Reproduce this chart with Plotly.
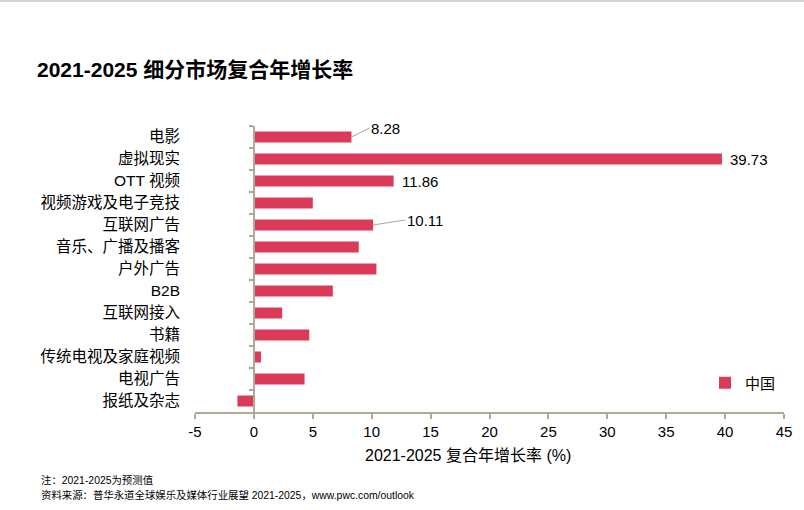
import plotly.graph_objects as go

categories = ["电影", "虚拟现实", "OTT 视频", "视频游戏及电子竞技", "互联网广告",
              "音乐、广播及播客", "户外广告", "B2B", "互联网接入", "书籍",
              "传统电视及家庭视频", "电视广告", "报纸及杂志"]
cagr = [8.28, 39.73, 11.86, 5.0, 10.11, 8.9, 10.4, 6.7, 2.4, 4.7, 0.6, 4.3, -1.4]
x_ticks = [-5, 0, 5, 10, 15, 20, 25, 30, 35, 40, 45]
x_tick_labels = [str(t) for t in x_ticks]
series_name = "中国"

FONT = "Liberation Sans, Arial, Noto Sans CJK SC, sans-serif"
BAR = "#DB3A58"
AXIS = "#ADA99B"

fig = go.Figure()
fig.add_trace(go.Bar(
    y=categories, x=cagr, orientation="h", name=series_name,
    marker=dict(color=BAR, line=dict(width=0)),
    showlegend=True, hoverinfo="skip",
))

# data labels (leader lines for some)
ann = []
label_spec = {0: dict(ax=18, ay=-9), 4: dict(ax=32, ay=-5)}
for i, c in enumerate(categories):
    v = cagr[i]
    if i in label_spec:
        ann.append(dict(x=v, y=c, xref="x", yref="y", text=f"{v:.2f}",
                        showarrow=True, arrowhead=0, arrowwidth=1, arrowcolor="#A6A6A6",
                        ax=label_spec[i]["ax"], ay=label_spec[i]["ay"], standoff=0,
                        xanchor="left", yanchor="middle",
                        font=dict(family=FONT, size=15, color="#000")))
    elif i in (1, 2):
        ann.append(dict(x=v, y=c, xref="x", yref="y", text=f"{v:.2f}",
                        showarrow=False, xanchor="left", yanchor="middle", xshift=6,
                        font=dict(family=FONT, size=15, color="#000")))

# x-axis title (centred on the chart area as in the original)
ann.append(dict(x=(468-195)/589, y=(412-455)/286, xref="paper", yref="paper", showarrow=False,
                xanchor="center", yanchor="middle", text="2021-2025 复合年增长率 (%)",
                font=dict(family=FONT, size=16, color="#000")))

# footnotes
ann.append(dict(x=-0.265, y=-0.238, xref="paper", yref="paper", showarrow=False,
                xanchor="left", yanchor="middle", text="注：2021-2025为预测值",
                font=dict(family=FONT, size=10.4, color="#000")))
ann.append(dict(x=-0.265, y=-0.290, xref="paper", yref="paper", showarrow=False,
                xanchor="left", yanchor="middle",
                text="资料来源：普华永道全球娱乐及媒体行业展望 2021-2025，www.pwc.com/outlook",
                font=dict(family=FONT, size=10.4, color="#000")))

fig.update_layout(
    width=804, height=510,
    margin=dict(l=195, r=20, t=126, b=98),
    paper_bgcolor="white", plot_bgcolor="white",
    font=dict(family=FONT, size=15, color="#000"),
    title=dict(text="<b>2021-2025 细分市场复合年增长率</b>", x=37/804, xanchor="left",
               xref="container", y=1-70/510, yanchor="middle", yref="container",
               font=dict(family=FONT, size=21, color="#000")),
    bargap=0.5,
    xaxis=dict(range=[-5, 45], tickvals=x_ticks, ticktext=x_tick_labels,
               showgrid=False, zeroline=False,
               showline=True, linecolor=AXIS, linewidth=1.5,
               ticks="outside", ticklen=5, tickcolor=AXIS, tickwidth=1.5,
               tickfont=dict(family=FONT, size=15, color="#000")),
    yaxis=dict(type="category", categoryorder="array", categoryarray=categories,
               autorange="reversed", anchor="free", position=0.1,
               showgrid=False, zeroline=False, showline=True, linecolor=AXIS, linewidth=1.5,
               ticks="outside", ticklen=4, tickcolor=AXIS, tickwidth=1.5,
               tickson="boundaries", ticklabelstandoff=70,
               tickfont=dict(family=FONT, size=15.5, color="#000")),
    legend=dict(x=(705-195)/589, y=(412-383)/286, xanchor="left", yanchor="middle",
                bgcolor="rgba(0,0,0,0)", font=dict(family=FONT, size=15, color="#000")),
    annotations=ann,
    shapes=[dict(type="line", xref="paper", yref="paper", x0=-1, x1=2,
                 y0=1+125/286, y1=1+125/286, line=dict(color="#C8C8C8", width=1.5))],
)

fig.write_html("out.html", config={"displayModeBar": False},
               post_script="document.body.style.margin='0';")
